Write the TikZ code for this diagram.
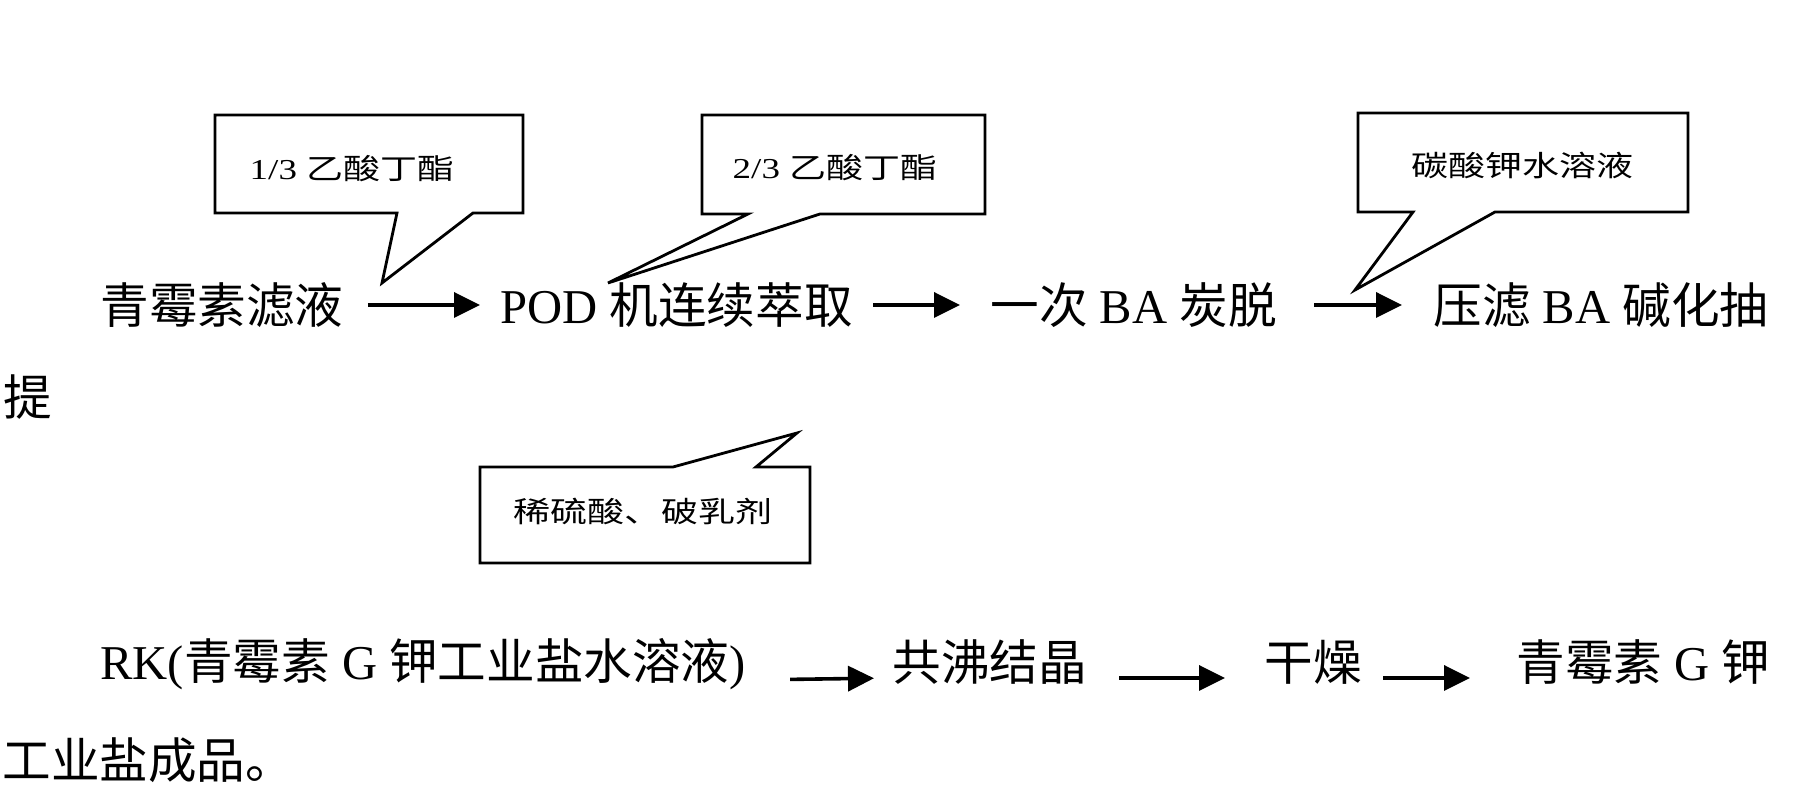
\documentclass[tikz,border=0pt]{standalone}
\usepackage{fontspec}
\usepackage{graphicx}
\setmainfont{Liberation Serif}
\newfontfamily\cjk{Noto Sans CJK SC}
\usetikzlibrary{arrows.meta}
\newcommand{\squash}[1]{\scalebox{1}[0.78]{#1}}

\begin{document}
\begin{tikzpicture}[x=0.5pt, y=-0.5pt,
  stage/.style={anchor=west, inner sep=0pt, font=\fontsize{24.3}{28}\selectfont},
  note/.style={inner sep=0pt, font=\fontsize{18.5}{22}\selectfont},
  bubble/.style={draw, line width=1.4pt, line join=miter},
  flow/.style={-{Triangle[length=13pt,width=12.5pt]}, line width=1.8pt}]
\useasboundingbox (0,0) rectangle (1812,785);
% Draw process steps, first line
\node[stage] (filtrate) at (100,305) {\cjk 青霉素滤液};
\node[stage] (pod) at (500,305) {POD {\cjk 机连续萃取}};
\node[stage] (decolor) at (990,305) {{\cjk 一次} BA {\cjk 炭脱}};
\node[stage] (press) at (1433,305) {{\cjk 压滤} BA {\cjk 碱化抽}};
\node[stage] (wrap1) at (3,397) {\cjk 提};
% Draw process steps, second line
\node[stage] (rk) at (100,664) {RK({\cjk 青霉素} G {\cjk 钾工业盐水溶液})};
\node[stage] (azeo) at (892,662) {\cjk 共沸结晶};
\node[stage] (dry) at (1264,662) {\cjk 干燥};
\node[stage] (product) at (1516,662) {{\cjk 青霉素} G {\cjk 钾}};
\node[stage] (wrap2) at (2,760) {\cjk 工业盐成品。};
% Draw arrows
\foreach \a/\b/\s/\e in {filtrate/pod/12pt/10pt, pod/decolor/10pt/15pt, decolor/press/18.5pt/15.5pt}
    \draw[flow, shorten <=\s, shorten >=\e] (\a.east) -- (\b.west);
\foreach \a/\b/\s/\e in {rk/azeo/22pt/9pt, azeo/dry/16pt/19.5pt, dry/product/10.5pt/23pt}
    \draw[flow, shorten <=\s, shorten >=\e] ([yshift=-8pt]\a.east) -- ([yshift=-8pt]\b.west);
% Draw callouts
\draw[bubble] (215,115) -- (523,115) -- (523,213) -- (473,213) -- (382,283) -- (397,213) -- (215,213) -- cycle;
\draw[bubble] (702,115) -- (985,115) -- (985,214) -- (820,214) -- (608,283) -- (748,214) -- (702,214) -- cycle;
\draw[bubble] (1358,113) -- (1688,113) -- (1688,212) -- (1495,212) -- (1355,290) -- (1413,212) -- (1358,212) -- cycle;
\draw[bubble] (480,467) -- (673,467) -- (797,433) -- (756,467) -- (810,467) -- (810,563) -- (480,563) -- cycle;
\node[note] (ba1) at (352,169) {\squash{1/3 {\cjk 乙酸丁酯}}};
\node[note] (ba2) at (835,168) {\squash{2/3 {\cjk 乙酸丁酯}}};
\node[note] (k2co3) at (1522,165) {\squash{\cjk 碳酸钾水溶液}};
\node[note] (acid) at (643,511) {\squash{\cjk 稀硫酸、破乳剂}};
\end{tikzpicture}
\end{document}
